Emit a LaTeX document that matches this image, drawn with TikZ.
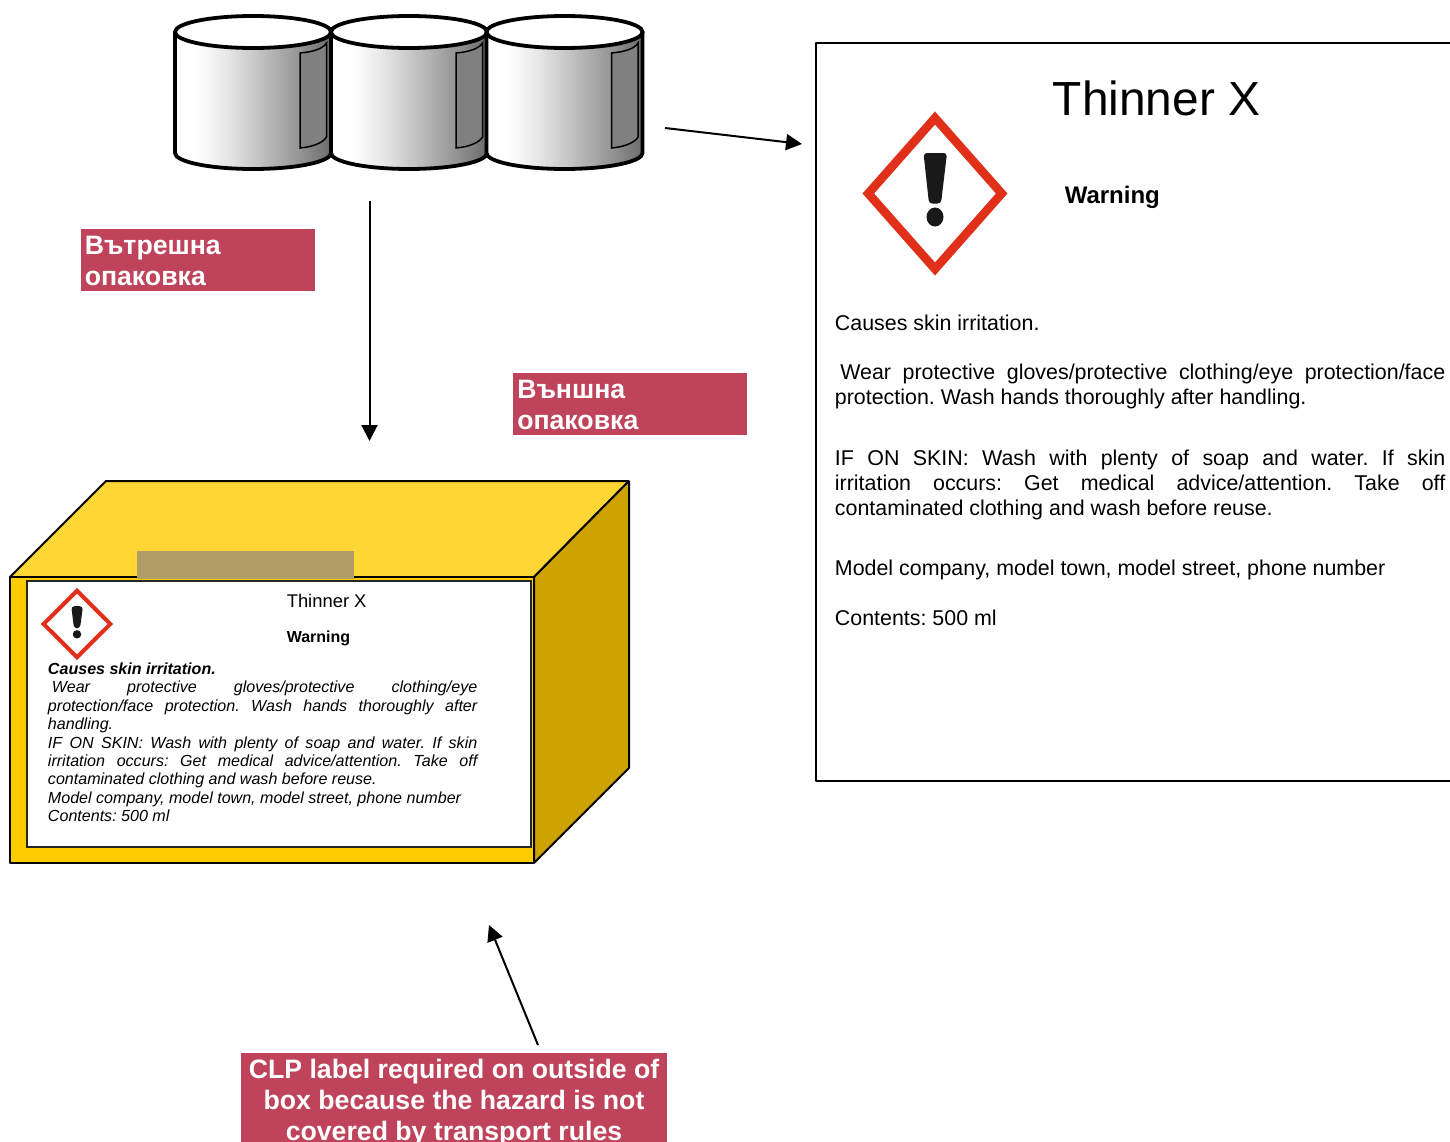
\documentclass[tikz,border=0pt]{standalone}
\usepackage{fontspec}
\setmainfont{Liberation Sans}
\usetikzlibrary{arrows.meta}
\definecolor{labred}{HTML}{C0435C}
\definecolor{ghsred}{HTML}{E1301A}
\definecolor{boxfront}{HTML}{FFCC00}
\definecolor{boxtop}{HTML}{FFD633}
\definecolor{boxside}{HTML}{CCA300}
\definecolor{tape}{HTML}{B09C64}
\pgfdeclarehorizontalshading{barrelshade}{100bp}{color(0bp)=(white); color(25bp)=(white); color(32bp)=(white); color(42bp)=(black!10); color(55bp)=(black!28); color(65bp)=(black!42); color(75bp)=(black!58); color(100bp)=(black!58)}
\newcommand\fs[2]{\fontsize{#1}{#2}\selectfont}
\newcommand\jl[2]{\makebox[#1][s]{#2}}
\newcommand\barrel[1]{%
  \begin{scope}[shift={(#1,0)}]
    \path[shading=barrelshade] (175,32) -- (175,153) arc[start angle=180,end angle=0,x radius=78,y radius=16] -- (331,32) -- cycle;
    \draw[fill=black!50,line width=1.5*0.75pt] (300,53) .. controls (312,52) and (323,49) .. (326.5,43) -- (326.5,137) .. controls (323,143) and (312,147) .. (300,148) -- cycle;
    \draw[barrelline] (175,32) -- (175,153) arc[start angle=180,end angle=0,x radius=78,y radius=16] -- (331,32);
    \draw[barrelline,fill=white] (253,32) ellipse[x radius=78,y radius=16];
  \end{scope}}
\newcommand\ghs[5]{%
  \begin{scope}[shift={(#1,#2)},xscale=#3,yscale=#4]
    \draw[ghsred,fill=white,line width=#5,line join=miter] (0,-75.5) -- (66.7,0) -- (0,75.5) -- (-66.7,0) -- cycle;
    \fill[black!90,rounded corners=2.5pt] (-11.5,-40.5) -- (12,-40.5) -- (6,10) -- (-6,10) -- cycle;
    \fill[black!90] (0,23.5) ellipse[x radius=8.5,y radius=9.5];
  \end{scope}}
\tikzset{
  x=0.75pt,y=-0.75pt,
  barrelline/.style={draw=black,line width=3.8*0.75pt},
  outline/.style={draw=black,line width=2*0.75pt,line join=bevel},
  conn/.style={draw=black,line width=2*0.75pt,-{Triangle[length=12pt,width=12pt]}},
  redbox/.style={fill=labred,inner sep=0pt,anchor=north west},
  redtext/.style={text=white,font=\bfseries\fs{20}{20},anchor=base west,inner sep=0pt},
  bodytxt/.style={anchor=north west,inner sep=0pt,align=left,font=\frenchspacing\fs{16.05}{18.75}},
  smalltxt/.style={anchor=north west,inner sep=0pt,align=left,font=\frenchspacing\itshape\fs{12.05}{13.8}},
  plaintxt/.style={anchor=base west,inner sep=0pt},
}
\begin{document}
\begin{tikzpicture}
\useasboundingbox (0,0) rectangle (1450,1142);
\clip (0,0) rectangle (1450,1142);
% barrels
\barrel{0}
\barrel{156}
\barrel{311.5}
% connector ends
\coordinate (a1s) at (665,128);
\coordinate (a1e) at (802,144);
\coordinate (a2s) at (369.5,201);
\coordinate (a2e) at (369.5,441);
\coordinate (a3s) at (538,1045);
\coordinate (a3e) at (489,925);
\draw[conn] (a1s) -- (a1e);
\draw[conn] (a2s) -- (a2e);
\draw[conn] (a3s) -- (a3e);
% red labels
\node[redbox,minimum width=234*0.75pt,minimum height=62*0.75pt] (inner) at (81,229) {};
\node[redtext] (innera) at (84.5,254) {Вътрешна};
\node[redtext] (innerb) at (84.5,285) {опаковка};
\node[redbox,minimum width=234*0.75pt,minimum height=62*0.75pt] (outer) at (513,373) {};
\node[redtext] (outera) at (517,398) {Външна};
\node[redtext] (outerb) at (517,429) {опаковка};
\node[redbox,minimum width=426*0.75pt,minimum height=89*0.75pt] (clp) at (241,1053) {};
\node[redtext,anchor=base] (clpa) at (454,1078) {CLP label required on outside of};
\node[redtext,anchor=base] (clpb) at (454,1109) {box because the hazard is not};
\node[redtext,anchor=base] (clpc) at (454,1140) {covered by transport rules};
% box
\draw[outline,fill=boxtop] (10,577) -- (106,481) -- (629,481) -- (534,577) -- cycle;
\draw[outline,fill=boxside] (534,577) -- (629,481) -- (629,768) -- (534,863) -- cycle;
\draw[outline,fill=boxfront] (10,577) rectangle (534,863);
\fill[tape] (137,551) rectangle (354,578.5);
\draw[draw=black!85,line width=2*0.75pt,fill=white] (27,581) rectangle (531,847);
\ghs{77}{624}{0.5}{0.44}{3pt}
\node[plaintxt,font=\fs{13.8}{13.8}] (smtitle) at (286.5,607) {Thinner X};
\node[plaintxt,font=\bfseries\fs{12}{12}] (smwarn) at (286.5,642) {Warning};
\node[smalltxt] (smbody) at (47.7,662.5) {\textbf{Causes skin irritation.}\\
  \jl{322pt}{\hspace*{3pt}Wear protective gloves/protective clothing/eye}\\
  \jl{322pt}{protection/face protection. Wash hands thoroughly after}\\
  handling.\\
  \jl{322pt}{IF ON SKIN: Wash with plenty of soap and water. If skin}\\
  \jl{322pt}{irritation occurs: Get medical advice/attention. Take off}\\
  contaminated clothing and wash before reuse.\\
  Model company, model town, model street, phone number\\
  Contents: 500 ml};
% right panel
\draw[outline] (1460,43) -- (816,43) -- (816,781) -- (1460,781);
\ghs{935}{193.5}{1}{1}{6.5pt}
\node[plaintxt,font=\fs{35.9}{35.9}] (title) at (1052.5,115) {Thinner X};
\node[plaintxt,font=\bfseries\fs{18}{18}] (warn) at (1064.5,203) {Warning};
\node[bodytxt] (causes) at (834.7,315) {Causes skin irritation.};
\node[bodytxt] (wear) at (834.7,364) {\jl{457.7pt}{\hspace*{4pt}Wear protective gloves/protective clothing/eye protection/face}\\
  protection. Wash hands thoroughly after handling.};
\node[bodytxt] (ifskin) at (834.7,450) {\jl{457.7pt}{IF ON SKIN: Wash with plenty of soap and water. If skin}\\
  \jl{457.7pt}{irritation occurs: Get medical advice/attention. Take off}\\
  contaminated clothing and wash before reuse.};
\node[bodytxt] (model) at (834.7,560) {Model company, model town, model street, phone number};
\node[bodytxt] (contents) at (834.7,609.5) {Contents: 500 ml};
\end{tikzpicture}
\end{document}
